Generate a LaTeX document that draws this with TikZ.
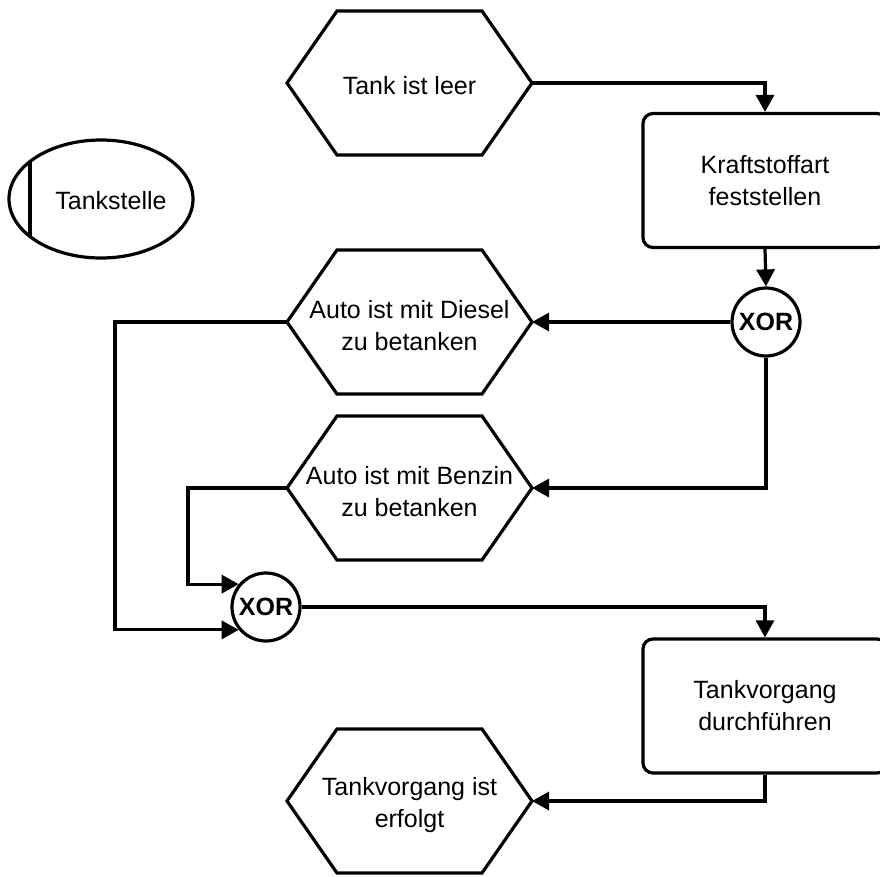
\documentclass[tikz,border=0pt]{standalone}
\usepackage{fontspec}
\setmainfont{Liberation Sans}
\usetikzlibrary{arrows.meta,shapes.geometric}
\tikzset{
  ln/.style={line width=3.2pt, line join=miter},
  arr/.style={ln, -{Triangle[length=17pt,width=18pt]}},
  txt/.style={align=center, font=\fontsize{25}{32}\selectfont, inner sep=0pt},
  fbox/.style={ln, draw, rounded corners=10pt, minimum width=244pt, minimum height=134pt, txt},
  xorn/.style={ln, draw, circle, minimum size=68pt, inner sep=0pt, font=\fontsize{25}{28}\selectfont\bfseries},
  hexev/.pic={\draw[ln] (-122.5,0) -- (-72.5,-72) -- (72.5,-72) -- (122.5,0) -- (72.5,72) -- (-72.5,72) -- cycle;}
}
\begin{document}
\begin{tikzpicture}[x=1pt,y=-1pt]
\useasboundingbox (0,0) rectangle (880,876);
\clip (0,0) rectangle (880,876);
\fill[white] (0,0) rectangle (880,876);

% Events (hexagons)
\pic at (409.5,83) {hexev};
\node[txt] (tank) at (409.5,86) {Tank ist leer};
\coordinate (tankR) at (532,83);

\pic at (409.5,322) {hexev};
\node[txt] (diesel) at (409.5,326) {Auto ist mit Diesel\\zu betanken};
\coordinate (dieselR) at (532,322);
\coordinate (dieselL) at (287,322);

\pic at (409.5,488) {hexev};
\node[txt] (benzin) at (409.5,492) {Auto ist mit Benzin\\zu betanken};
\coordinate (benzinR) at (532,488);
\coordinate (benzinL) at (287,488);

\pic at (409.5,801) {hexev};
\node[txt] (done) at (409.5,805) {Tankvorgang ist\\erfolgt};
\coordinate (doneR) at (532,801);

% Functions
\node[fbox] (box1) at (765,180.5) {Kraftstoffart\\feststellen};
\node[fbox] (box2) at (765,706) {Tankvorgang\\durchführen};

% Connectors
\node[xorn] (xor1) at (766,322) {XOR};
\node[xorn] (xor2) at (266,607) {XOR};

% Organisation unit
\node[ln, draw, ellipse, minimum width=184pt, minimum height=118pt] (org) at (101,199) {};
\begin{scope}
  \clip (101,199) ellipse [x radius=92, y radius=59];
  \draw[ln] (30,130) -- (30,270);
\end{scope}
\node[txt] (orgt) at (111,201) {Tankstelle};

% Flow
\draw[arr] (tankR) -| (box1.north);
\draw[arr] (box1.south) -- (xor1.north);
\draw[arr] (xor1.west) -- (dieselR);
\draw[arr] (xor1.south) |- (benzinR);
\draw[arr] (dieselL) -- (115,322) |- (xor2.220);
\draw[arr] (benzinL) -- (188,488) |- (xor2.140);
\draw[arr] (xor2.east) -| (box2.north);
\draw[arr] (box2.south) |- (doneR);
\end{tikzpicture}
\end{document}
